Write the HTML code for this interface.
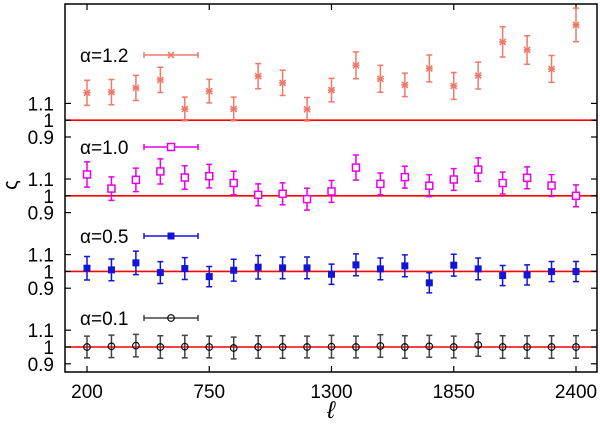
<!DOCTYPE html>
<html><head><meta charset="utf-8"><style>
body{margin:0;background:#fff}
svg text{font-family:"Liberation Sans",sans-serif}
</style></head><body>
<svg id="chart" width="600" height="430" xmlns="http://www.w3.org/2000/svg"></svg>
<script>
const ells=[200,310,420,530,640,750,860,970,1080,1190,1300,1410,1520,1630,1740,1850,1960,2070,2180,2290,2400];
const xTicks=[200,750,1300,1850,2400];
const yTickLabels=["1.1","1","0.9"];
const yTickVals=[1.1,1,0.9];
const labels=["α=1.2","α=1.0","α=0.5","α=0.1"];
const vals12=[1.163,1.167,1.192,1.240,1.067,1.173,1.067,1.262,1.222,1.065,1.179,1.327,1.246,1.210,1.308,1.204,1.266,1.466,1.418,1.305,1.567];
const errs12=[0.075,0.075,0.075,0.075,0.07,0.07,0.07,0.075,0.075,0.07,0.07,0.08,0.08,0.07,0.08,0.08,0.08,0.09,0.085,0.08,0.1];
const vals10=[1.127,1.043,1.095,1.145,1.109,1.117,1.076,1.006,1.012,0.980,1.026,1.168,1.071,1.111,1.060,1.097,1.156,1.076,1.107,1.061,1.000];
const errs10=[0.075,0.07,0.07,0.075,0.07,0.07,0.07,0.065,0.065,0.065,0.065,0.075,0.065,0.065,0.065,0.065,0.07,0.065,0.065,0.065,0.065];
const vals05=[1.019,1.009,1.051,0.993,1.017,0.969,1.007,1.025,1.021,1.021,0.983,1.039,1.015,1.033,0.932,1.037,1.015,0.975,0.979,0.999,0.999];
const errs05=[0.07,0.065,0.07,0.065,0.065,0.06,0.065,0.07,0.065,0.065,0.06,0.065,0.065,0.065,0.06,0.065,0.065,0.06,0.06,0.06,0.06];
const vals01=[1.0,1.004,1.008,1.0,1.002,1.0,0.994,1.0,1.0,1.0,1.002,1.0,1.006,1.0,1.004,1.0,1.012,1.0,1.0,1.0,1.0];
const errs01=[0.065,0.067,0.067,0.067,0.067,0.065,0.065,0.067,0.067,0.065,0.067,0.065,0.067,0.067,0.065,0.065,0.067,0.067,0.067,0.067,0.067];
const offsets=[1.35,0.9,0.45,0];

const NS="http://www.w3.org/2000/svg";
const svg=document.getElementById('chart');
const L=65,R=597,T=4,B=372;
const x=v=>87+(v-200)*(122.25/550);
const y=v=>347-(v-1)*168;
function el(tag,attrs,parent){const e=document.createElementNS(NS,tag);for(const k in attrs)e.setAttribute(k,attrs[k]);(parent||svg).appendChild(e);return e;}

offsets.forEach((o,i)=>{
  const ln=el('line',{x1:L,x2:R,y1:y(1+o),y2:y(1+o),stroke:'#ff0000','stroke-width':1.6});
  
  
});

const fr=el('rect',{x:L,y:T,width:R-L,height:B-T,fill:'none',stroke:'#000','stroke-width':1.5});



xTicks.forEach(v=>{
  el('line',{x1:x(v),x2:x(v),y1:B,y2:B-6,stroke:'#000','stroke-width':1.2});
  el('line',{x1:x(v),x2:x(v),y1:T,y2:T+6,stroke:'#000','stroke-width':1.2});
  const t=el('text',{x:x(v),y:B+26,'text-anchor':'middle','font-size':19});
  t.textContent=v;
  
  
});
offsets.forEach(o=>{
  yTickVals.forEach((v,j)=>{
    const yy=y(v+o);
    el('line',{x1:L,x2:L+6,y1:yy,y2:yy,stroke:'#000','stroke-width':1.2});
    el('line',{x1:R,x2:R-6,y1:yy,y2:yy,stroke:'#000','stroke-width':1.2});
    const t=el('text',{x:54,y:yy+7,'text-anchor':'end','font-size':19});
    t.textContent=yTickLabels[j];
    
    
  });
});
const yt=el('text',{x:17,y:185,'text-anchor':'middle','font-size':20,transform:'rotate(-90 17 185)'});
yt.textContent='ς';


const xt=el('text',{x:331,y:418,'text-anchor':'middle','font-size':24,'font-style':'italic','font-family':'Liberation Serif,serif'});
xt.textContent='ℓ';



const series=[
 {v:vals12,e:errs12,c:'#f07a6a',m:'star',ly:55},
 {v:vals10,e:errs10,c:'#e800e8',m:'osq',ly:147},
 {v:vals05,e:errs05,c:'#1414d8',m:'fsq',ly:236},
 {v:vals01,e:errs01,c:'#444',m:'circ',ly:318}
];
function marker(g,m,cx,cy,c){
  if(m==='star'){
    el('path',{d:`M${cx-3} ${cy-3}L${cx+3} ${cy+3}M${cx-3} ${cy+3}L${cx+3} ${cy-3}M${cx-3.5} ${cy}H${cx+3.5}`,stroke:c,'stroke-width':1.6,fill:'none'},g);
  }else if(m==='osq'){
    el('rect',{x:cx-3.5,y:cy-3.5,width:7,height:7,fill:'#fff',stroke:c,'stroke-width':1.5},g);
  }else if(m==='fsq'){
    el('rect',{x:cx-3.5,y:cy-3.5,width:7,height:7,fill:c},g);
  }else{
    el('circle',{cx:cx,cy:cy,r:3.3,fill:'none',stroke:'#000','stroke-width':1.1},g);
  }
}
series.forEach((s,i)=>{
  const g=el('g',{});
  
  
  s.v.forEach((v,k)=>{
    const cx=x(ells[k]),cy=y(v+offsets[i]),y1=y(v+s.e[k]+offsets[i]),y2=y(v-s.e[k]+offsets[i]);
    const p=el('path',{d:`M${cx} ${y1}V${y2}M${cx-3} ${y1}H${cx+3}M${cx-3} ${y2}H${cx+3}`,stroke:s.c,'stroke-width':1.5,fill:'none'},g);
    
    
    marker(g,s.m,cx,cy,s.c);
  });
  const lg=el('g',{});
  
  
  const t=el('text',{x:80,y:s.ly+7,'font-size':19},lg);
  t.textContent=labels[i];
  el('path',{d:`M144 ${s.ly}H198M144 ${s.ly-3}V${s.ly+3}M198 ${s.ly-3}V${s.ly+3}`,stroke:s.c,'stroke-width':1.5,fill:'none'},lg);
  marker(lg,s.m,171,s.ly,s.c);
});
</script>
</body></html>
